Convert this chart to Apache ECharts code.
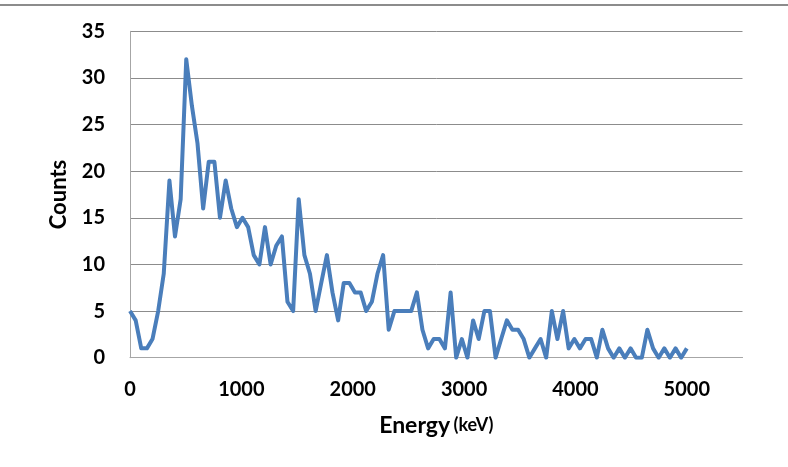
<!DOCTYPE html>
<html>
<head>
<meta charset="utf-8">
<script src="https://cdn.jsdelivr.net/npm/echarts@6/dist/echarts.min.js"></script>
<style>
html,body{margin:0;padding:0;background:#fff;}
#chart{width:788px;height:467px;}
</style>
</head>
<body>
<div id="chart"></div>
<script>
// Energy (keV) of each channel
const energies = [
  0,51,101,152,202,253,303,354,404,455,
  505,556,606,657,707,758,808,859,909,960,
  1010,1061,1111,1162,1212,1263,1313,1364,1414,1465,
  1515,1566,1616,1667,1717,1768,1818,1869,1919,1970,
  2020,2071,2121,2172,2222,2273,2323,2374,2424,2475,
  2525,2576,2626,2677,2727,2778,2828,2879,2929,2980,
  3030,3081,3131,3182,3232,3283,3333,3384,3434,3485,
  3535,3586,3636,3687,3737,3788,3838,3889,3939,3990,
  4040,4091,4141,4192,4242,4293,4343,4394,4444,4495,
  4545,4596,4646,4697,4747,4798,4848,4899,4949,5000
];
// Counts per channel
const counts = [
  5,4,1,1,2,5,9,19,13,17,
  32,27,23,16,21,21,15,19,16,14,
  15,14,11,10,14,10,12,13,6,5,
  17,11,9,5,8,11,7,4,8,8,
  7,7,5,6,9,11,3,5,5,5,
  5,7,3,1,2,2,1,7,0,2,
  0,4,2,5,5,0,2,4,3,3,
  2,0,1,2,0,5,2,5,1,2,
  1,2,2,0,3,1,0,1,0,1,
  0,0,3,1,0,1,0,1,0,1
];
const xTitle = 'Energy';
const xUnit = '(keV)';
const yTitle = 'Counts';

const data = energies.map((e, i) => [e, counts[i]]);
const chart = echarts.init(document.getElementById('chart'));
const FONT = 'Lato';
chart.setOption({
  animation: false,
  backgroundColor: '#fff',
  grid: {left: 130, right: 45.5, top: 31.3, bottom: 109.3, containLabel: false},
  graphic: [{
    type: 'line', silent: true,
    shape: {x1: 0, y1: 5, x2: 788, y2: 5},
    style: {stroke: '#8c8c8c', lineWidth: 2}
  }],
  xAxis: {
    type: 'value', min: 0, max: 5500, interval: 1000,
    name: '{a|' + xTitle + '} {b|' + xUnit + '}',
    nameLocation: 'middle', nameGap: 56,
    nameTextStyle: {
      rich: {
        a: {fontFamily: FONT, fontWeight: 'bold', fontSize: 23, color: '#000'},
        b: {fontFamily: FONT, fontWeight: 'bold', fontSize: 18, color: '#000'}
      }
    },
    axisLine: {show: true, lineStyle: {color: '#a6a6a6', width: 1}},
    axisTick: {show: false},
    splitLine: {show: false},
    axisLabel: {
      showMaxLabel: false, margin: 22,
      formatter: v => String(v),
      fontFamily: FONT, fontWeight: 'bold', fontSize: 20, color: '#000'
    }
  },
  yAxis: {
    type: 'value', min: 0, max: 35, interval: 5,
    name: yTitle, nameLocation: 'middle', nameGap: 60,
    nameTextStyle: {fontFamily: FONT, fontWeight: 'bold', fontSize: 22, color: '#000'},
    axisLine: {show: true, lineStyle: {color: '#a6a6a6', width: 1}},
    axisTick: {show: false},
    splitLine: {show: true, lineStyle: {color: '#8c8c8c', width: 1}},
    axisLabel: {margin: 25, formatter: v => String(v), fontFamily: FONT, fontWeight: 'bold', fontSize: 20, color: '#000'}
  },
  series: [{
    type: 'line',
    data: data,
    showSymbol: false,
    symbol: 'none',
    lineStyle: {color: '#4a7ebb', width: 4, join: 'round'},
    itemStyle: {color: '#4a7ebb'}
  }]
});
</script>
</body>
</html>
